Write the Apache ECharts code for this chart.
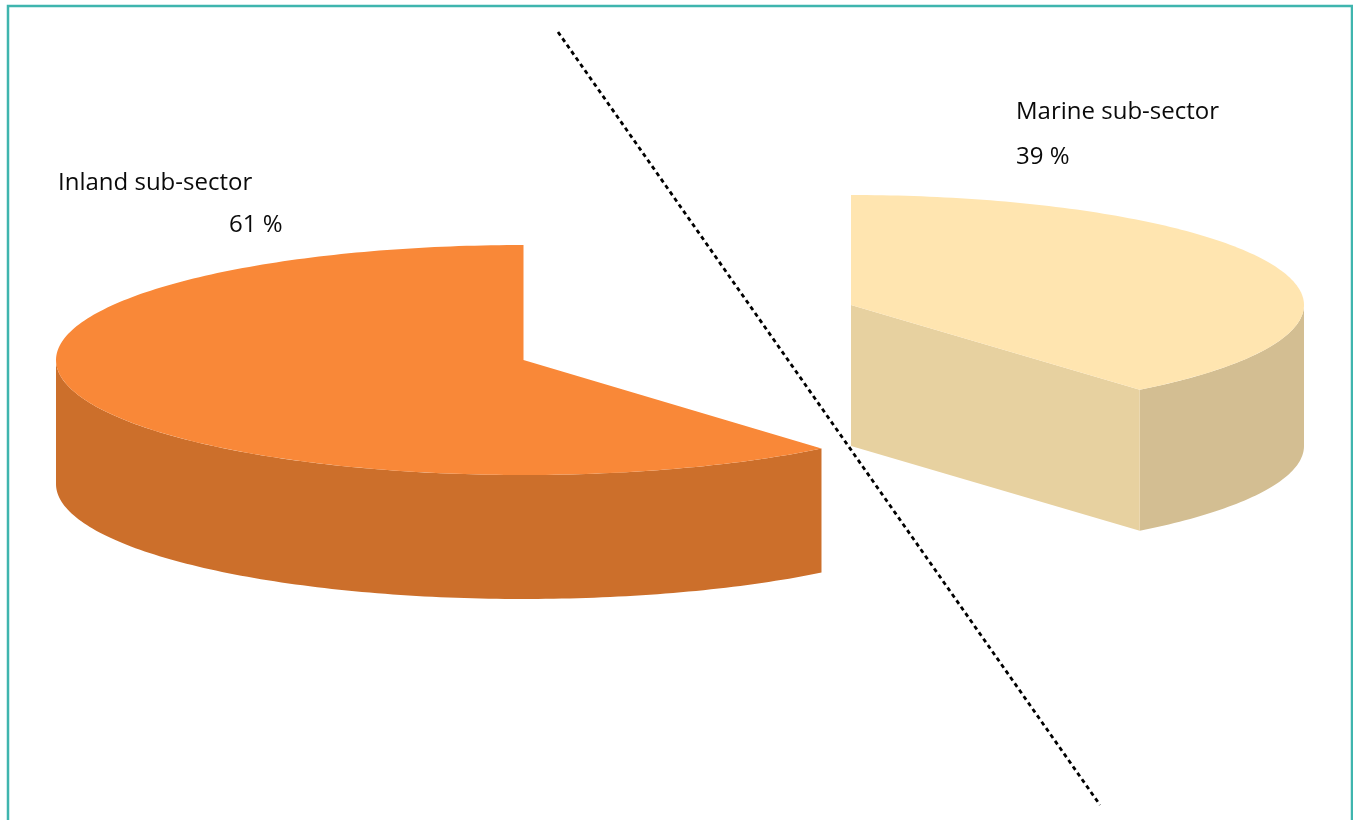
<!DOCTYPE html>
<html>
<head>
<meta charset="utf-8">
<style>html,body{margin:0;padding:0;background:#fff;overflow:hidden}#c{width:1353px;height:820px}</style>
<script src="https://cdn.jsdelivr.net/npm/echarts@6/dist/echarts.min.js"></script>
</head>
<body>
<div id="c"></div>
<script>
const categories = ['Inland sub-sector', 'Marine sub-sector'];
const shares = [61, 39];

// layout of each exploded slice: drawn from shares through renderItem
const layouts = [
  {cx:523.5, cy:360, rx:467.5, ry:115, depth:124, top:'#F98838', side:'#CC6F2B', wall:null,
   clockwise:false, nameX:58, nameY:183, pctX:229, pctY:225},
  {cx:851, cy:305, rx:453, ry:110, depth:141, top:'#FFE5B0', side:'#D3BE92', wall:'#E7D1A0',
   clockwise:true, nameX:1016, nameY:112, pctX:1016, pctY:157}
];
const fontFamily = '"Open Sans", "Noto Sans", sans-serif';
const total = shares.reduce((a, b) => a + b, 0);

function pt(l, deg, dz) {
  const r = deg * Math.PI / 180;
  return [l.cx + l.rx * Math.sin(r), l.cy - l.ry * Math.cos(r) + (dz || 0)];
}
function arc(l, a0, a1, dz) {
  const out = [], n = Math.max(2, Math.ceil(Math.abs(a1 - a0)));
  for (let i = 0; i <= n; i++) out.push(pt(l, a0 + (a1 - a0) * i / n, dz));
  return out;
}
function renderSlice(params, api) {
  const i = params.dataIndex, l = layouts[i], v = api.value(0);
  const sweep = v / total * 360;
  const a0 = l.clockwise ? 0 : 360 - sweep;
  const a1 = l.clockwise ? sweep : 360;
  const kids = [];
  // outer rim visible on the front half (90..270 degrees)
  const s0 = Math.max(a0, 90), s1 = Math.min(a1, 270);
  if (s1 > s0) {
    const upper = arc(l, s0, s1, 0), lower = arc(l, s1, s0, l.depth);
    kids.push({type:'polygon', shape:{points:upper.concat(lower)}, style:{fill:l.side}});
  }
  if (l.wall) {
    const e = pt(l, sweep, 0), e2 = pt(l, sweep, l.depth);
    kids.push({type:'polygon', shape:{points:[[l.cx,l.cy],e,e2,[l.cx,l.cy+l.depth]]}, style:{fill:l.wall}});
  }
  kids.push({type:'polygon', shape:{points:[[l.cx,l.cy]].concat(arc(l, a0, a1, 0))}, style:{fill:l.top}});
  kids.push({type:'text', style:{x:l.nameX, y:l.nameY, text:categories[i], fill:'#0a0a0a',
    font:'24px ' + fontFamily, textAlign:'left', textVerticalAlign:'middle'}});
  kids.push({type:'text', style:{x:l.pctX, y:l.pctY, text:v + ' %', fill:'#0a0a0a',
    font:'24px ' + fontFamily, textAlign:'left', textVerticalAlign:'middle'}});
  return {type:'group', children:kids};
}

const chart = echarts.init(document.getElementById('c'), null, {renderer:'canvas'});
chart.setOption({
  animation:false,
  backgroundColor:'#fff',
  graphic:[
    {type:'rect', z:-1, shape:{x:8, y:6, width:1344, height:900},
     style:{fill:'none', stroke:'#3FB5AE', lineWidth:2.5}},
    {type:'line', z:10, shape:{x1:558, y1:32, x2:1100, y2:805},
     style:{stroke:'#000', lineWidth:2.8, lineDash:[4.2,3.6]}}
  ],
  series:[{
    type:'custom',
    coordinateSystem:'none',
    renderItem:renderSlice,
    data:shares.map((v, i) => ({name:categories[i], value:[v]}))
  }]
});
</script>
</body>
</html>
